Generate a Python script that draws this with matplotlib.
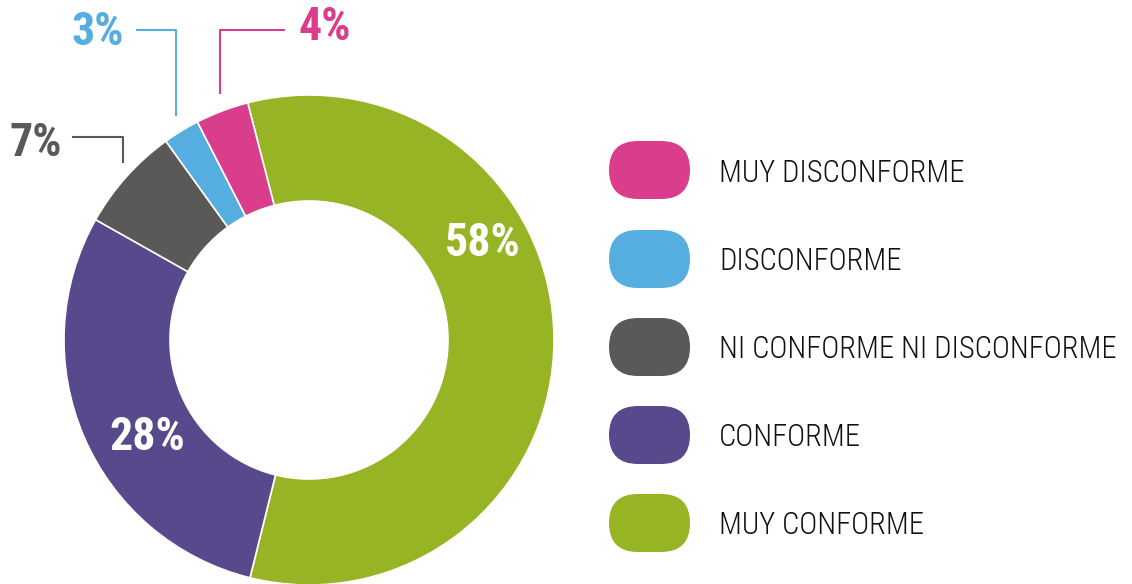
import matplotlib
matplotlib.use('Agg')
import matplotlib.pyplot as plt
from matplotlib import font_manager
from matplotlib.patches import FancyBboxPatch

# data
categories = ['MUY CONFORME', 'CONFORME', 'NI CONFORME NI DISCONFORME', 'DISCONFORME', 'MUY DISCONFORME']
values = [57.9, 29.3, 6.9, 2.4, 3.5]
pct_labels = ['58%', '28%', '7%', '3%', '4%']
colors = ['#97B424', '#58498D', '#5A5957', '#55ADE0', '#D93D8C']
legend_order = ['MUY DISCONFORME', 'DISCONFORME', 'NI CONFORME NI DISCONFORME', 'CONFORME', 'MUY CONFORME']

# pick a narrow font if there is one
names = set(f.name for f in font_manager.fontManager.ttflist)
font = 'Roboto'
for cand in ['Liberation Sans Narrow', 'Roboto Condensed', 'Roboto']:
    if cand in names:
        font = cand
        break
plt.rcParams['font.family'] = [font, 'DejaVu Sans']

W, H = 1132, 584
fig = plt.figure(figsize=(W / 100, H / 100), dpi=100)
ax = fig.add_axes([0, 0, 1, 1])

cx, cy = 309, H - 340
R = 245
ax.pie(values, colors=colors, startangle=104.5, counterclock=False,
       radius=R, center=(cx, cy), frame=True,
       wedgeprops=dict(width=106, edgecolor='white', linewidth=1.2))
ax.set_xlim(0, W)
ax.set_ylim(0, H)
ax.set_aspect('equal')
ax.axis('off')

# labels inside
ax.text(483, H - 243, pct_labels[0], color='white', fontsize=33, fontweight='bold', ha='center', va='center')
ax.text(147, H - 437, pct_labels[1], color='white', fontsize=33, fontweight='bold', ha='center', va='center')

# labels outside with leader lines
ax.text(36, H - 143, pct_labels[2], color=colors[2], fontsize=33, fontweight='bold', ha='center', va='center')
ax.plot([73, 123, 123], [H - 137, H - 137, H - 162], color=colors[2], lw=1.5)
ax.text(98, H - 32, pct_labels[3], color=colors[3], fontsize=33, fontweight='bold', ha='center', va='center')
ax.plot([137, 176, 176], [H - 30, H - 30, H - 115], color=colors[3], lw=1.5)
ax.text(325, H - 27, pct_labels[4], color=colors[4], fontsize=33, fontweight='bold', ha='center', va='center')
ax.plot([220, 220, 284], [H - 93, H - 30, H - 30], color=colors[4], lw=1.5)

# legend
ys = [170, 259, 347, 435, 523]
for name, y in zip(legend_order, ys):
    c = colors[categories.index(name)]
    ax.add_patch(FancyBboxPatch((609, H - y - 29), 81, 58,
                                boxstyle='round,pad=0,rounding_size=29',
                                facecolor=c, edgecolor='none'))
    ax.text(719, H - y - 3, name, color='#111111', fontsize=22, fontweight='light',
            ha='left', va='center')

fig.savefig('out.png', dpi=100)
